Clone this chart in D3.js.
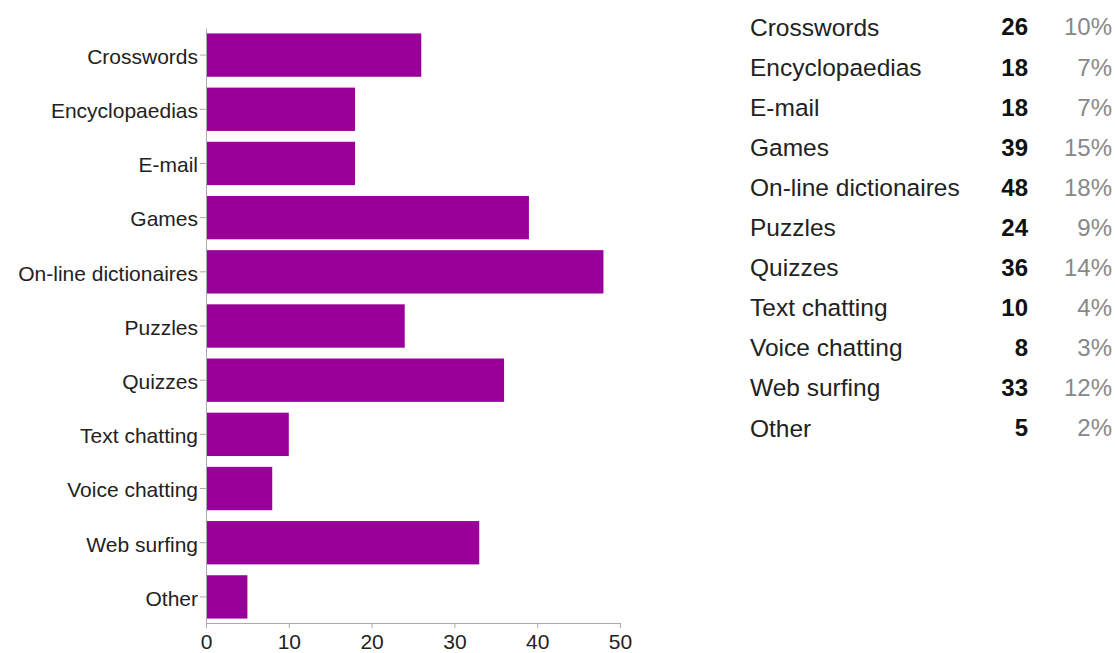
<!DOCTYPE html>
<html>
<head>
<meta charset="utf-8">
<script src="https://cdn.jsdelivr.net/npm/d3@7"></script>
<style>
  body { margin: 0; background: #fff; }
  svg text { font-family: "Liberation Sans", Arial, sans-serif; }
</style>
</head>
<body>
<div class="container"></div>
<script>
const categories = ["Crosswords", "Encyclopaedias", "E-mail", "Games", "On-line dictionaires",
  "Puzzles", "Quizzes", "Text chatting", "Voice chatting", "Web surfing", "Other"];
const counts = [26, 18, 18, 39, 48, 24, 36, 10, 8, 33, 5];
const xTicks = [0, 10, 20, 30, 40, 50];

const width = 1115;
const height = 653;

const svg = d3.select(".container")
  .append("svg")
  .attr("width", width)
  .attr("height", height);

// scales
const x = d3.scaleLinear().domain([0, 50]).range([206, 620]);
const y = d3.scaleBand().domain(categories).range([28, 624]).paddingInner(0.2).paddingOuter(0.1);

// bars
svg.selectAll(".bar")
  .data(categories)
  .enter()
  .append("rect")
  .attr("class", "bar")
  .attr("x", x(0) + 1)
  .attr("y", d => y(d))
  .attr("width", (d, i) => x(counts[i]) - x(0) - 1)
  .attr("height", y.bandwidth())
  .attr("fill", "#990099");

// y axis
const yAxis = svg.append("g")
  .attr("transform", `translate(${x(0)},0)`)
  .call(d3.axisLeft(y).tickSize(6).tickSizeOuter(0).tickPadding(2));
yAxis.select(".domain").attr("stroke", "#aaa");
yAxis.selectAll(".tick line").attr("stroke", "#aaa");
yAxis.selectAll(".tick text")
  .attr("font-size", 21)
  .attr("dy", "0.42em")
  .attr("fill", "#222");

// x axis
const xAxis = svg.append("g")
  .attr("transform", `translate(0,${y.range()[1] - 1})`)
  .call(d3.axisBottom(x).tickValues(xTicks).tickSize(5).tickSizeOuter(0).tickPadding(6));
xAxis.select(".domain").attr("stroke", "#aaa");
xAxis.selectAll(".tick line").attr("stroke", "#aaa");
xAxis.selectAll(".tick text")
  .attr("font-size", 21)
  .attr("fill", "#222");

// summary table on the right
const total = d3.sum(counts);
const row = d3.scaleBand().domain(categories).range([7, 448]);

const rows = svg.selectAll(".row")
  .data(categories)
  .enter()
  .append("g")
  .attr("class", "row")
  .attr("transform", d => `translate(0,${row(d) + row.bandwidth() / 2})`);

rows.append("text")
  .attr("x", 750)
  .attr("dy", "0.35em")
  .attr("font-size", 24.5)
  .attr("fill", "#222")
  .text(d => d);

rows.append("text")
  .attr("x", 1028)
  .attr("dy", "0.35em")
  .attr("text-anchor", "end")
  .attr("font-size", 24)
  .attr("font-weight", "bold")
  .attr("fill", "#111")
  .text((d, i) => counts[i]);

rows.append("text")
  .attr("x", 1112)
  .attr("dy", "0.35em")
  .attr("text-anchor", "end")
  .attr("font-size", 24)
  .attr("fill", "#888")
  .text((d, i) => Math.round(counts[i] / total * 100) + "%");
</script>
</body>
</html>
